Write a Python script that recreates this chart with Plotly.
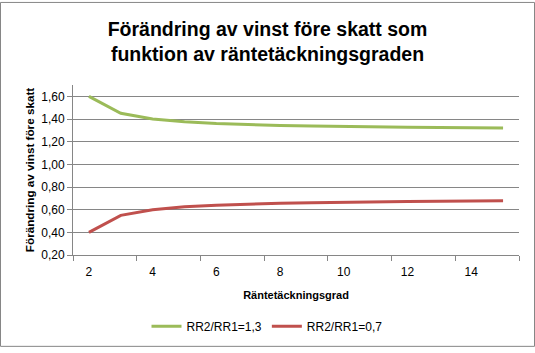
import plotly.graph_objects as go

grad = [2, 3, 4, 5, 6, 7, 8, 9, 10, 11, 12, 13, 14, 15]
rr_13 = [1.60, 1.45, 1.40, 1.375, 1.36, 1.35, 1.343, 1.338, 1.333, 1.33, 1.327, 1.325, 1.323, 1.321]
rr_07 = [0.40, 0.55, 0.60, 0.625, 0.64, 0.65, 0.657, 0.662, 0.667, 0.67, 0.673, 0.675, 0.677, 0.679]
x_ticks = [2, 4, 6, 8, 10, 12, 14]

W, H = 535, 353
L, R, T, B = 73, 16, 85, 94
pw, ph = W - L - R, H - T - B

font = "Liberation Sans"
grid = "#868686"

fig = go.Figure()
fig.add_trace(go.Scatter(x=grad, y=rr_13, mode="lines", name="RR2/RR1=1,3",
                         line=dict(color="#9BBB59", width=3)))
fig.add_trace(go.Scatter(x=grad, y=rr_07, mode="lines", name="RR2/RR1=0,7",
                         line=dict(color="#C0504D", width=3)))

fig.update_layout(
    width=W, height=H,
    margin=dict(l=L, r=R, t=T, b=B),
    paper_bgcolor="white", plot_bgcolor="white",
    separators=",.",
    font=dict(family=font, size=12, color="black"),
    title=dict(text="<b>Förändring av vinst före skatt som<br>funktion av räntetäckningsgraden</b>",
               x=0.5, xref="container", xanchor="center",
               y=1 - 36 / H, yref="container", yanchor="middle",
               font=dict(family=font, size=19.5, color="black")),
    xaxis=dict(range=[1.5, 15.5], tickvals=x_ticks, ticks="", showgrid=False,
               showline=True, linecolor=grid, linewidth=1, zeroline=False,
               tickfont=dict(size=12), ticklabelstandoff=6,
               minor=dict(tick0=1.5, dtick=2, ticks="outside", ticklen=5, tickcolor=grid, showgrid=False),
               title=dict(text="<b>Räntetäckningsgrad</b>", font=dict(size=11), standoff=12)),
    yaxis=dict(range=[0.2, 1.7], tick0=0.2, dtick=0.2, tickformat=".2f",
               showgrid=True, gridcolor=grid, gridwidth=1,
               showline=True, linecolor=grid, linewidth=1, zeroline=False,
               ticks="outside", ticklen=5, tickcolor=grid,
               tickfont=dict(size=12),
               title=dict(text="<b>Förändring av vinst före skatt</b>", font=dict(size=11.7), standoff=4)),
    legend=dict(orientation="h", x=(267 - L) / pw, xanchor="center",
                y=(T + ph - 332) / ph, yanchor="middle",
                font=dict(size=12), itemwidth=30, traceorder="normal"),
    showlegend=True,
    shapes=[dict(type="rect", xref="paper", yref="paper",
                 x0=-(L - 0.5) / pw, x1=(W - L - 0.5) / pw,
                 y0=-(B - 0.5) / ph, y1=(H - B - 0.5) / ph,
                 line=dict(color=grid, width=1), fillcolor="rgba(0,0,0,0)", layer="below")],
)

fig.write_html("out.html")
